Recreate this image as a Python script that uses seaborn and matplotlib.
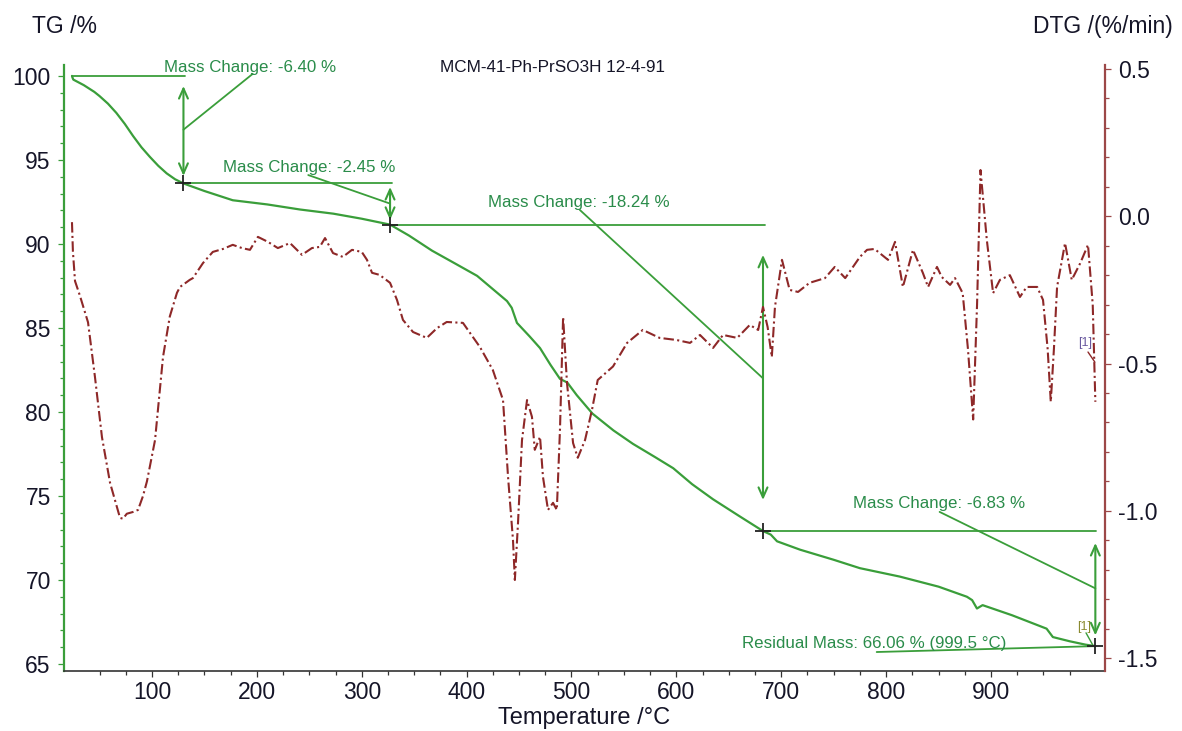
import numpy as np
import matplotlib
matplotlib.use("Agg")
import matplotlib.pyplot as plt
from matplotlib.ticker import FixedLocator, MultipleLocator
import seaborn as sns

# ---- TG curve (mass %, vs temperature) ----
tg_temp = [23.7, 24.2, 25, 35, 45, 50, 58, 66, 74, 82, 90, 98, 106, 114, 122, 130,
           150, 177, 210, 241, 273, 300, 327, 345, 367, 390, 410, 438.5, 443, 448,
           460, 470, 480, 489, 496, 505, 520, 540, 558.6, 580, 597, 615, 635, 660,
           682.6, 690, 696, 718, 750, 775, 813, 850, 877, 882, 886.6, 892, 920,
           953, 959, 975, 990, 999.5]
tg_mass = [100.0, 99.9, 99.78, 99.45, 99.05, 98.8, 98.35, 97.8, 97.15, 96.42, 95.75,
           95.18, 94.65, 94.2, 93.85, 93.60, 93.15, 92.6, 92.35, 92.05, 91.8, 91.5,
           91.15, 90.5, 89.6, 88.8, 88.1, 86.6, 86.2, 85.3, 84.5, 83.8, 82.8, 81.97,
           81.75, 81.0, 79.9, 78.9, 78.1, 77.3, 76.65, 75.7, 74.8, 73.8, 72.91, 72.7,
           72.3, 71.8, 71.2, 70.7, 70.2, 69.6, 69.0, 68.8, 68.3, 68.5, 67.9, 67.1,
           66.6, 66.35, 66.15, 66.06]

# ---- DTG curve (%/min) ----
dtg_temp = [23.7, 24.6, 26.6, 31.3, 39, 45.6, 52.3, 60, 69.5, 72.3, 76, 81.9, 86.7,
            91.4, 95.2, 102.9, 110.5, 117, 123.8, 126.7, 136, 139, 148.6, 158, 167.7,
            177, 185.8, 193.4, 201, 210.6, 220, 231.6, 243, 252.5, 260, 265, 272.6,
            282, 290.7, 300, 305, 309.8, 317, 327, 333.6, 339.3, 348.9, 362, 371.7,
            381, 396.5, 404, 412.7, 425, 434.7, 439.5, 444.2, 446, 449, 452.8, 457.6,
            462.3, 465, 470, 472.8, 477.6, 482.4, 486, 489, 492, 495.7, 501.5, 506,
            512.9, 519.5, 525, 539.6, 553, 568, 584, 600, 613, 622.5, 635, 644.5,
            658, 670, 678, 682.6, 687, 691, 694, 700.7, 708, 716, 727, 741.7, 751,
            761, 775, 781.8, 789, 801.8, 808.5, 816, 825.6, 835, 840, 848.5, 853,
            861, 865.7, 873, 878, 883, 886.7, 890, 896, 902, 908.5, 918, 927.6, 934,
            944, 949.6, 954, 957, 960, 963, 970.6, 977, 985, 992.5, 997, 999.5]
dtg_rate = [-0.02, -0.12, -0.22, -0.27, -0.36, -0.545, -0.75, -0.905, -1.024, -1.027,
            -1.01, -1.004, -0.997, -0.95, -0.90, -0.76, -0.478, -0.34, -0.26, -0.24,
            -0.216, -0.21, -0.159, -0.121, -0.111, -0.097, -0.108, -0.114, -0.07,
            -0.087, -0.108, -0.091, -0.131, -0.108, -0.104, -0.074, -0.125, -0.138,
            -0.114, -0.121, -0.148, -0.192, -0.199, -0.226, -0.284, -0.352, -0.393,
            -0.413, -0.38, -0.359, -0.362, -0.40, -0.444, -0.522, -0.624, -0.885,
            -1.099, -1.235, -1.041, -0.76, -0.624, -0.681, -0.793, -0.749, -0.885,
            -0.997, -0.973, -0.997, -0.726, -0.342, -0.566, -0.77, -0.82, -0.76,
            -0.658, -0.556, -0.51, -0.43, -0.386, -0.413, -0.42, -0.43, -0.403,
            -0.447, -0.403, -0.413, -0.369, -0.386, -0.308, -0.376, -0.478, -0.308,
            -0.148, -0.25, -0.257, -0.226, -0.21, -0.172, -0.21, -0.138, -0.114,
            -0.111, -0.148, -0.087, -0.24, -0.114, -0.192, -0.24, -0.172, -0.206,
            -0.233, -0.21, -0.261, -0.45, -0.69, -0.30, 0.157, -0.08, -0.261, -0.216,
            -0.2, -0.274, -0.24, -0.24, -0.284, -0.45, -0.63, -0.45, -0.24, -0.091,
            -0.216, -0.16, -0.097, -0.30, -0.63]

# ---- evaluated steps ----
step_temp = [130, 327, 682.6, 999.5]
mass_change = [-6.40, -2.45, -18.24, -6.83]
residual_mass = 66.06
residual_temp = 999.5
sample_name = "MCM-41-Ph-PrSO3H 12-4-91"

x_ticks = [100, 200, 300, 400, 500, 600, 700, 800, 900]
tg_ticks = [65, 70, 75, 80, 85, 90, 95, 100]
dtg_ticks = [-1.5, -1.0, -0.5, 0.0, 0.5]

GREEN = "#3a9e3a"
TXT_GREEN = "#2a8c4a"
DTG_RED = "#8e2828"
SPINE_RED = "#9c4848"
INK = "#151528"

sns.set_style("white")
plt.rcParams["font.family"] = ["Liberation Sans", "DejaVu Sans"]

W, H = 1182, 731
fig = plt.figure(figsize=(W / 100, H / 100), dpi=100)
ax = fig.add_axes([64 / W, 1 - 671 / H, (1105 - 64) / W, (671 - 65) / H])
ax2 = ax.twinx()

sns.lineplot(x=tg_temp, y=tg_mass, ax=ax, color=GREEN, lw=1.6,
             estimator=None, sort=False)
sns.lineplot(x=dtg_temp, y=dtg_rate, ax=ax2, color=DTG_RED, lw=1.5,
             estimator=None, sort=False, linestyle=(0, (5, 1.6, 1, 1.6)))

ax.set_xlim(16.1, 1008.7)
ax.set_ylim(64.58, 100.65)
ax2.set_ylim(-1.544, 0.5136)
for a in (ax, ax2):
    a.set_xlabel("")
    a.set_ylabel("")
    a.grid(False)

ax.xaxis.set_major_locator(FixedLocator(x_ticks))
ax.xaxis.set_minor_locator(FixedLocator([t for t in range(50, 1000, 25) if t % 100]))
ax.yaxis.set_major_locator(FixedLocator(tg_ticks))
ax.yaxis.set_minor_locator(MultipleLocator(1))
ax2.yaxis.set_major_locator(FixedLocator(dtg_ticks))
ax2.yaxis.set_minor_locator(MultipleLocator(0.1))
ax2.set_yticklabels([f"{v:.1f}" for v in dtg_ticks])

for a in (ax, ax2):
    for s in a.spines.values():
        s.set_visible(False)
ax.spines["left"].set_visible(True)
ax.spines["left"].set_color(GREEN)
ax.spines["left"].set_linewidth(1.6)
ax.spines["bottom"].set_visible(True)
ax.spines["bottom"].set_color("#333333")
ax.spines["bottom"].set_linewidth(1.2)
ax2.spines["right"].set_visible(True)
ax2.spines["right"].set_color(SPINE_RED)
ax2.spines["right"].set_linewidth(1.6)

ax.tick_params(axis="x", which="both", direction="out", colors="#333333",
               labelcolor=INK, labelsize=16.5, bottom=True, pad=3)
ax.tick_params(axis="x", which="major", length=4.5, width=0.9)
ax.tick_params(axis="x", which="minor", length=3, width=0.9)
ax.tick_params(axis="y", which="both", direction="out", colors=GREEN,
               labelcolor=INK, labelsize=16.5, left=True, pad=5)
ax.tick_params(axis="y", which="major", length=4.5, width=0.9)
ax.tick_params(axis="y", which="minor", length=3, width=0.9)
ax2.tick_params(axis="y", which="both", direction="out", colors=SPINE_RED,
                labelcolor=INK, labelsize=16.5, right=True, pad=5)
ax2.tick_params(axis="y", which="major", length=4.5, width=0.9)
ax2.tick_params(axis="y", which="minor", length=3, width=0.9)

# ---- step annotations ----
levels = [100.0]
for d in mass_change:
    levels.append(round(levels[-1] + d, 2))

arrow_kw = dict(arrowstyle="<->,head_length=0.45,head_width=0.2", color=GREEN,
                lw=1.5, shrinkA=0, shrinkB=0, mutation_scale=16)
line_kw = dict(color=GREEN, lw=1.3)
txt_kw = dict(color=TXT_GREEN, fontsize=12.2, va="baseline", ha="left")

# (baseline start, baseline end, arrow top, arrow bottom, leader on arrow,
#  leader end x, leader end y, text x, text y)
layout = [
    (24, 131.5, 99.4, 94.05, 96.8, 196, 100.12, 111, 100.24),
    (130, 328.8, 93.39, 91.43, 92.4, 249, 94.1, 168, 94.29),
    (327, 684.5, 89.35, 74.76, 82.0, 508, 92.02, 420, 92.2),
    (682.6, 1000.1, 72.2, 66.7, 69.5, 851, 74.05, 768, 74.3),
]
for i, (b0, b1, a_top, a_bot, a_mid, lx, ly, tx, ty) in enumerate(layout):
    t = step_temp[i]
    ax.plot([b0, b1], [levels[i], levels[i]], **line_kw)
    ax.annotate("", xy=(t, a_bot), xytext=(t, a_top), arrowprops=arrow_kw)
    ax.plot([t, lx], [a_mid, ly], **line_kw)
    ax.text(tx, ty, f"Mass Change: {mass_change[i]:.2f} %", **txt_kw)
    ax.plot([t], [levels[i + 1]], marker="+", ms=11, mew=1.3, color="#222222",
            zorder=6)

# residual mass
ax.plot([791, residual_temp], [65.71, residual_mass], **line_kw)
ax.text(663, 65.95, f"Residual Mass: {residual_mass:.2f} % ({residual_temp:.1f} °C)",
        **txt_kw)

# curve tags
ax.text(988.7, 67.2, "[1]", color="#8a8a30", fontsize=9, ha="center", va="center")
ax.plot([990.6, 997], [66.85, 66.13], color=GREEN, lw=1.0)
ax2.text(989.6, -0.43, "[1]", color="#6a5aa0", fontsize=9, ha="center", va="center")
ax2.plot([992.5, 999], [-0.461, -0.495], color=DTG_RED, lw=1.0)

# headers
fig.text(440 / W, 1 - 72 / H, sample_name, color=INK, fontsize=12.3,
         ha="left", va="baseline")
fig.text(32 / W, 1 - 33 / H, "TG /%", color=INK, fontsize=16.5, ha="left",
         va="baseline")
fig.text(1033 / W, 1 - 33 / H, "DTG /(%/min)", color=INK, fontsize=16.5,
         ha="left", va="baseline")
fig.text(584.5 / W, 1 - 724 / H, "Temperature /°C", color=INK, fontsize=17,
         ha="center", va="baseline")

fig.savefig("out.png", dpi=100, facecolor="white")
